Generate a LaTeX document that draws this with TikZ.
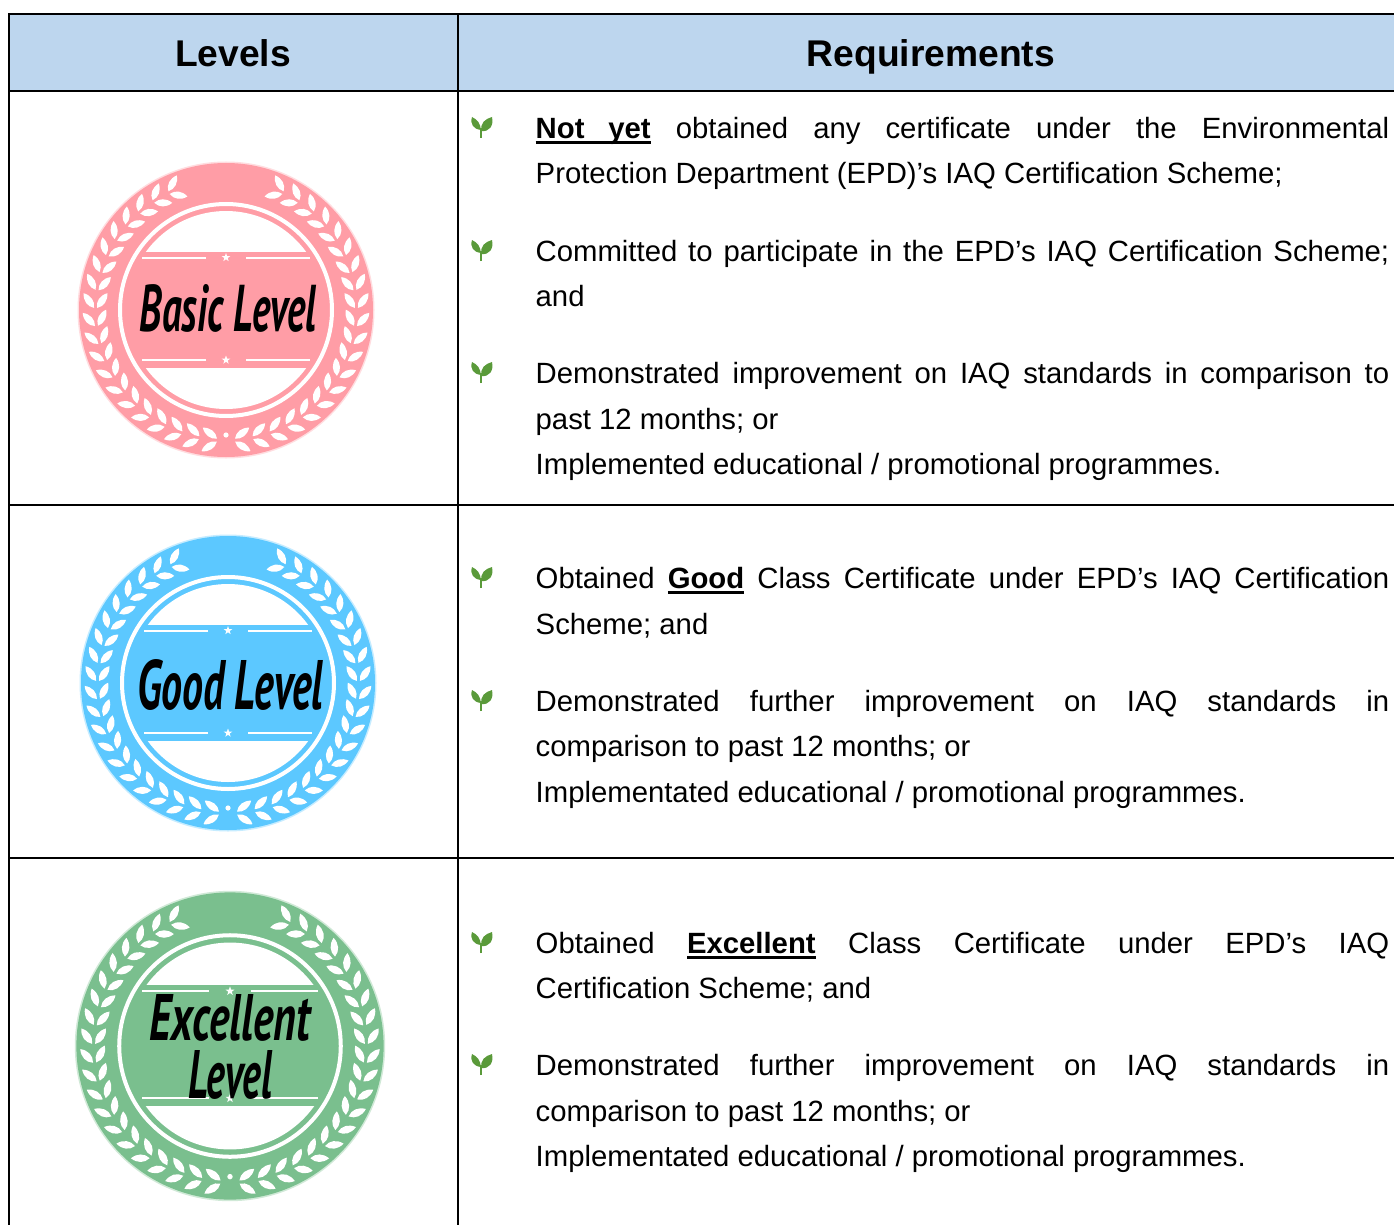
\documentclass[tikz,border=0pt]{standalone}
\usepackage{fontspec}
\usepackage{graphicx}
\setmainfont{Liberation Sans}
\newfontfamily\brushfont{PT Sans}
\definecolor{headblue}{HTML}{BDD6EE}
\definecolor{pinkb}{HTML}{FF9DA6}
\definecolor{blueb}{HTML}{5CC8FF}
\definecolor{greenb}{HTML}{7ABF8E}
\definecolor{sprout}{HTML}{5A9A3A}
\newcommand\jl[1]{\hbox to 853.5pt{#1}}
\newsavebox\ulsave
\newcommand\ulb[1]{\sbox\ulsave{\bfseries #1}\rlap{\rule[-6pt]{\wd\ulsave}{3pt}}\usebox\ulsave}
\newcommand\leafshape{(0,0) .. controls (5,4.8) and (12,4.8) .. (18,0) .. controls (12,-4.8) and (5,-4.8) .. (0,0)}
\newcommand\bstar[2]{\fill[white,shift={(#1,#2)}] (90:4.5)--(126:1.8)--(162:4.5)--(198:1.8)--(234:4.5)--(270:1.8)--(306:4.5)--(342:1.8)--(18:4.5)--(54:1.8)--cycle;}
\newcommand\badge[4]{%
\begin{scope}[shift={(#1,-#2)},scale=#3]
  \fill[#4!35!white] (0,0) circle (148.5);
  \fill[#4] (0,0) circle (147);
  \foreach \sd in {1,-1}{
    \begin{scope}[xscale=\sd]
      \foreach \t in {4,11.9,...,156}{
        \fill[white,shift={(\t-90:132)},rotate=\t-36] \leafshape;
        \fill[white,shift={(\t-90:129)},rotate=\t+34] \leafshape;
      }
      \draw[white,line width=2pt] (20,52.5) -- (84,52.5);
      \draw[white,line width=2pt] (20,-50) -- (84,-50);
    \end{scope}
  }
  \fill[white] (0,-125) circle (2.6);
  \draw[white,line width=4pt] (0,0) circle (106);
  \begin{scope}\clip (-110,59) rectangle (110,110); \fill[white] (0,0) circle (99); \end{scope}
  \begin{scope}\clip (-110,-58) rectangle (110,-110); \fill[white] (0,0) circle (99); \end{scope}
  \bstar{0}{52.5}
  \bstar{0}{-50}
\end{scope}}
\newcommand\sproutat[1]{%
\begin{scope}[shift={(481,-#1)}]
  \draw[sprout,line width=1.2pt] (0,0) -- (0,10);
  \fill[sprout] (0,8) .. controls (-1,15) and (-3,18) .. (-9,21) .. controls (-11,14) and (-8,9) .. (0,8);
  \fill[sprout] (0.5,7) .. controls (-1,15) and (4,19) .. (11,21) .. controls (13,12) and (8,6) .. (0.5,7);
\end{scope}}
\tikzset{
  rule/.style={line width=1.6pt,black},
  headtxt/.style={font=\fontsize{37.2}{44}\selectfont\bfseries,anchor=base,inner sep=0},
  bodytxt/.style={font=\fontsize{29.3}{36}\selectfont,anchor=base west,inner sep=0},
  brush/.style={font=\brushfont\bfseries\itshape\fontsize{40}{44}\selectfont,inner sep=0,text=black}
}
\begin{document}
\begin{tikzpicture}[x=1pt,y=1pt]
\useasboundingbox (0,-1225) rectangle (1394,0);
\fill[white] (0,-1225) rectangle (1394,0);
\fill[headblue] (9,-14) rectangle (1394,-91);
\draw[rule] (1394,-14) -- (9,-14) -- (9,-1225);
\draw[rule] (458,-14) -- (458,-1225);
\draw[rule] (9,-91) -- (1394,-91);
\draw[rule] (9,-505) -- (1394,-505);
\draw[rule] (9,-858) -- (1394,-858);
\node[headtxt] (hl) at (233,-66.5) {Levels};
\node[headtxt] (hr) at (931,-66.5) {Requirements};
\badge{226}{310}{1}{pinkb}
\badge{228}{683}{1}{blueb}
\badge{230}{1046}{1.045}{greenb}
\node[brush] (b1) at (228,-308) {\resizebox{176pt}{47pt}{Basic Level}};
\node[brush] (b2) at (230,-685) {\resizebox{186pt}{50pt}{Good Level}};
\node[brush] (b3a) at (230,-1018) {\resizebox{160pt}{46pt}{Excellent}};
\node[brush] (b3b) at (230,-1075) {\resizebox{84pt}{48pt}{Level}};
\foreach \yy in {138,261,383,588,711,953,1075}{\sproutat{\yy}}
\node[bodytxt] (t1) at (535.5,-138.5) {\jl{\ulb{\hbox to 115pt{Not\hfil yet}} obtained any certificate under the Environmental}};
\node[bodytxt] (t2) at (535.5,-183.5) {Protection Department (EPD)’s IAQ Certification Scheme;};
\node[bodytxt] (t3) at (535.5,-261) {\jl{Committed to participate in the EPD’s IAQ Certification Scheme;}};
\node[bodytxt] (t4) at (535.5,-306) {and};
\node[bodytxt] (t5) at (535.5,-383) {\jl{Demonstrated improvement on IAQ standards in comparison to}};
\node[bodytxt] (t6) at (535.5,-429) {past 12 months; or};
\node[bodytxt] (t7) at (535.5,-474) {Implemented educational / promotional programmes.};
\node[bodytxt] (t8) at (535.5,-588) {\jl{Obtained \ulb{Good} Class Certificate under EPD’s IAQ Certification}};
\node[bodytxt] (t9) at (535.5,-634) {Scheme; and};
\node[bodytxt] (t10) at (535.5,-711) {\jl{Demonstrated further improvement on IAQ standards in}};
\node[bodytxt] (t11) at (535.5,-756) {comparison to past 12 months; or};
\node[bodytxt] (t12) at (535.5,-802) {Implementated educational / promotional programmes.};
\node[bodytxt] (t13) at (535.5,-953) {\jl{Obtained \ulb{Excellent} Class Certificate under EPD’s IAQ}};
\node[bodytxt] (t14) at (535.5,-998) {Certification Scheme; and};
\node[bodytxt] (t15) at (535.5,-1075) {\jl{Demonstrated further improvement on IAQ standards in}};
\node[bodytxt] (t16) at (535.5,-1121) {comparison to past 12 months; or};
\node[bodytxt] (t17) at (535.5,-1166) {Implementated educational / promotional programmes.};
\end{tikzpicture}
\end{document}
